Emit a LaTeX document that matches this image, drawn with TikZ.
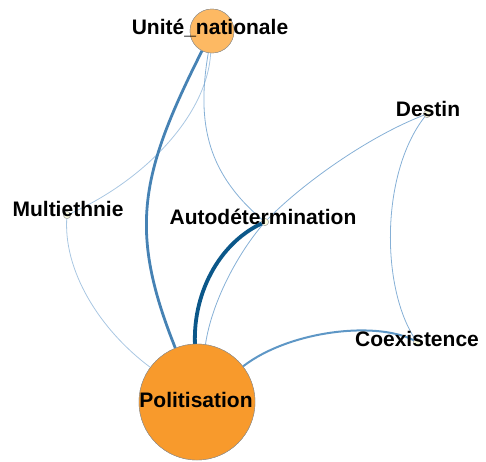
\documentclass[tikz,border=0pt]{standalone}
\usepackage{fontspec}
\setmainfont{Liberation Sans}
\definecolor{orangebig}{HTML}{F89A2C}
\definecolor{orangelight}{HTML}{FDB963}
\definecolor{edark}{HTML}{0B5789}
\definecolor{emid}{HTML}{4682B4}
\definecolor{ecoex}{HTML}{5E97C6}
\definecolor{elight}{HTML}{86B0D6}
\definecolor{epale}{HTML}{A9C7E2}
\definecolor{dotfill}{HTML}{FCFCE0}
\begin{document}
\begin{tikzpicture}[x=1pt,y=-1pt,
  bignode/.style={circle,draw=black!45,line width=0.4pt,inner sep=0pt},
  dotnode/.style={circle,draw=black!35,fill=dotfill,line width=0.5pt,inner sep=0pt,minimum size=7pt},
  lab/.style={font=\bfseries\fontsize{21}{25}\selectfont,anchor=base,inner sep=0pt},
  edgethin/.style={draw=elight,line width=0.8pt},
  edgepale/.style={draw=epale,line width=0.8pt},
  edgemed/.style={draw=ecoex,line width=2pt},
  edgethick/.style={draw=emid,line width=2.8pt},
  edgedark/.style={draw=edark,line width=3.8pt}
]
\useasboundingbox (0,0) rectangle (486,461);
% node positions
\coordinate (Upos) at (212,31);
\coordinate (Ppos) at (197,402);
\node[dotnode] (M) at (67,215) {};
\node[dotnode] (A) at (265,222) {};
\node[dotnode] (D) at (427,114) {};
\node[dotnode] (C) at (417,342) {};
\node[bignode,minimum size=44pt] (U) at (Upos) {};
\node[bignode,minimum size=116pt] (P) at (Ppos) {};
% edges
\draw[edgepale] (U) .. controls (207,115) and (145,180) .. (M);
\draw[edgepale] (M.center) .. controls (62,270) and (100,330) .. (P);
\draw[edgethin] (U) .. controls (196,125) and (208,175) .. (A.center);
\draw[edgethin] (D.center) .. controls (380,170) and (380,290) .. (C.center);
\draw[edgethin] (P) .. controls (212,300) and (240,250) .. (A.center)
   .. controls (300,185) and (370,135) .. (D.center);
\draw[edgemed] (P) .. controls (290,330) and (380,320) .. (C.center);
\draw[edgethick] (U) .. controls (140,174) and (128,230) .. (P);
\draw[edgedark] (P) .. controls (193,290) and (222,240) .. (A.center);
% redraw nodes on top
\node[dotnode] at (M) {};
\node[dotnode] at (A) {};
\node[dotnode] at (D) {};
\node[dotnode] at (C) {};
\node[bignode,fill=orangelight,minimum size=44pt] at (Upos) {};
\node[bignode,fill=orangebig,minimum size=116pt] at (Ppos) {};
% labels
\node[lab] (lU) at (210,34) {Unité\_nationale};
\node[lab] (lM) at (68,216) {Multiethnie};
\node[lab] (lA) at (263,224) {Autodétermination};
\node[lab] (lD) at (428,116) {Destin};
\node[lab] (lC) at (417,346) {Coexistence};
\node[lab] (lP) at (196,407) {Politisation};
\end{tikzpicture}
\end{document}
